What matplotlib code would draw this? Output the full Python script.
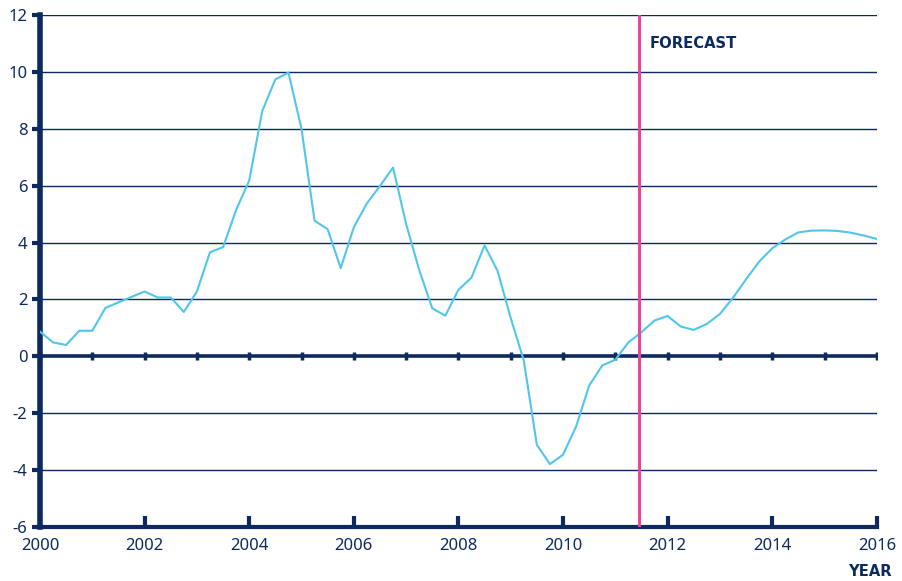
import numpy as np
import matplotlib
matplotlib.use("Agg")
import matplotlib.pyplot as plt

# quarterly values, 2000Q1 .. 2016Q1
start_year = 2000
values = [
    0.87, 0.49, 0.40, 0.90,   # 2000
    0.90, 1.70, 1.90, 2.09,   # 2001
    2.28, 2.07, 2.07, 1.56,   # 2002
    2.28, 3.66, 3.84, 5.15,   # 2003
    6.18, 8.63, 9.74, 9.98,   # 2004
    8.00, 4.77, 4.47, 3.10,   # 2005
    4.54, 5.38, 5.99, 6.64,   # 2006
    4.66, 3.04, 1.69, 1.43,   # 2007
    2.34, 2.77, 3.90, 3.00,   # 2008
    1.35, -0.15, -3.11, -3.79,  # 2009
    -3.46, -2.47, -1.03, -0.32,  # 2010
    -0.12, 0.49, 0.85, 1.26,  # 2011
    1.42, 1.05, 0.93, 1.14,   # 2012
    1.49, 2.06, 2.71, 3.33,   # 2013
    3.80, 4.11, 4.36, 4.42,   # 2014
    4.43, 4.41, 4.35, 4.25,   # 2015
    4.13,                     # 2016
]
forecast_start = 2011.45
x_ticks = [2000, 2002, 2004, 2006, 2008, 2010, 2012, 2014, 2016]
y_ticks = [-6, -4, -2, 0, 2, 4, 6, 8, 10, 12]

navy = "#0c2a5e"
cyan = "#4fc6ec"
pink = "#e8479a"

plt.rcParams['font.family'] = ['Noto Sans', 'DejaVu Sans']
plt.rcParams['axes.unicode_minus'] = False

x = start_year + np.arange(len(values)) * 0.25

fig = plt.figure(figsize=(9.03, 5.81), dpi=100)
ax = fig.add_axes([0.0443, 0.093, 0.9267, 0.881])

# horizontal grid
for yv in y_ticks[1:]:
    if yv != 0:
        ax.axhline(yv, color=navy, lw=1.0, zorder=1)
ax.axhline(0, color=navy, lw=2.6, zorder=2)
# small year ticks on the zero line
years = np.arange(2000, 2017)
ax.plot(years, np.zeros(len(years)), linestyle='none', marker='|',
        markersize=6, markeredgewidth=2.5, color=navy, zorder=2)

ax.plot(x, values, color=cyan, lw=1.5, zorder=3)
ax.axvline(forecast_start, color=pink, lw=2.2, zorder=4)
ax.text(forecast_start + 0.2, 11.0, "FORECAST", color=navy, fontsize=10.6,
        family='DejaVu Sans', fontweight='bold', va='center', ha='left')

ax.set_xlim(2000, 2016)
ax.set_ylim(-6, 12)
ax.set_xticks(x_ticks)
ax.set_yticks(y_ticks)

for side in ['top', 'right']:
    ax.spines[side].set_visible(False)
ax.spines['left'].set_color(navy)
ax.spines['left'].set_linewidth(4)
ax.spines['bottom'].set_color(navy)
ax.spines['bottom'].set_linewidth(3)

ax.tick_params(axis='x', direction='in', length=8, width=3, color=navy,
               labelcolor=navy, labelsize=12, pad=8)
ax.tick_params(axis='y', direction='out', length=6, width=3, color=navy,
               labelcolor=navy, labelsize=12, pad=3)

fig.text(0.988, 0.003, "YEAR", color=navy, fontsize=10.6, family='DejaVu Sans',
         fontweight='bold', ha='right', va='bottom')

fig.savefig("out.png", dpi=100)
